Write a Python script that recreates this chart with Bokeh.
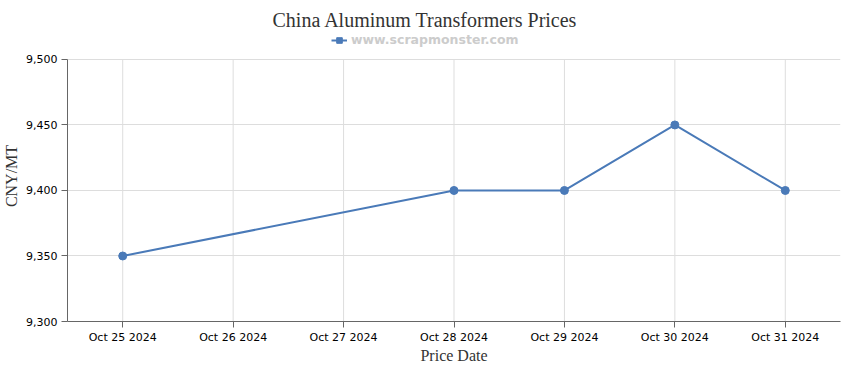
from datetime import datetime, timedelta
from bokeh.plotting import figure
from bokeh.models import (DatetimeTickFormatter, NumeralTickFormatter, FixedTicker, Range1d,
                          Title, Legend, LegendItem, ColumnDataSource)
from bokeh.embed import file_html
from bokeh.resources import INLINE

dates = ["2024-10-25", "2024-10-28", "2024-10-29", "2024-10-30", "2024-10-31"]
prices = [9350, 9400, 9400, 9450, 9400]
tick_dates = ["2024-10-25", "2024-10-26", "2024-10-27", "2024-10-28", "2024-10-29", "2024-10-30", "2024-10-31"]
y_ticks = [9300, 9350, 9400, 9450, 9500]

xs = [datetime.strptime(d, "%Y-%m-%d") for d in dates]
txs = [datetime.strptime(d, "%Y-%m-%d") for d in tick_dates]
half = timedelta(hours=12)

COLOR = "#4a7ab8"
Y_TOP = 9522.1  # headroom so the legend can sit inside the frame above 9,500

p = figure(width=850, height=370, output_backend="svg", toolbar_location=None,
           x_axis_type="datetime",
           x_range=Range1d(txs[0] - half, txs[-1] + half),
           y_range=Range1d(y_ticks[0], Y_TOP),
           min_border_left=10, min_border_right=10, min_border_top=30, min_border_bottom=49)
p.outline_line_color = None
p.background_fill_color = "white"
p.border_fill_color = "white"

# vertical grid lines restricted to the value range
p.segment(x0=txs, x1=txs, y0=[y_ticks[0]] * len(txs), y1=[y_ticks[-1]] * len(txs),
          line_color="#dddddd", line_width=1)

src = ColumnDataSource(dict(x=xs, y=prices))
ln = p.line("x", "y", source=src, line_color=COLOR, line_width=2)
sc = p.scatter("x", "y", source=src, size=8, fill_color=COLOR, line_color=COLOR)
sq = p.scatter("x", "y", source=src, marker="square", size=0, fill_color=COLOR, line_color=COLOR)

p.xaxis.ticker = FixedTicker(ticks=[t.timestamp() * 1000 for t in txs])
p.xaxis.formatter = DatetimeTickFormatter(days="%b %d %Y", months="%b %d %Y", hours="%b %d %Y")
p.yaxis.ticker = FixedTicker(ticks=y_ticks)
p.yaxis.formatter = NumeralTickFormatter(format="0,0")
p.yaxis.bounds = (y_ticks[0], y_ticks[-1])

for ax in (p.xaxis[0], p.yaxis[0]):
    ax.axis_line_color = "#666666"
    ax.major_tick_line_color = "#666666"
    ax.major_tick_out = 6
    ax.major_tick_in = 0
    ax.minor_tick_line_color = None
    ax.major_label_text_font = "DejaVu Sans"
    ax.major_label_text_font_size = "11px"
    ax.major_label_text_color = "#000000"
    ax.axis_label_text_font = "Liberation Serif"
    ax.axis_label_text_font_style = "normal"
    ax.axis_label_text_font_size = "16px"
    ax.axis_label_text_color = "#333333"

p.xaxis.axis_label = "Price Date"
p.yaxis.axis_label = "CNY/MT"
p.xaxis.axis_label_standoff = 0
p.yaxis.axis_label_standoff = 3
p.xaxis.major_label_standoff = 3
p.yaxis.major_label_standoff = 4

p.xgrid.grid_line_color = None
p.ygrid.grid_line_color = "#dddddd"
p.ygrid.ticker = p.yaxis.ticker

legend = Legend(items=[LegendItem(label="www.scrapmonster.com", renderers=[ln, sq])],
                orientation="horizontal", location=(264, 274),
                label_text_font="DejaVu Sans", label_text_font_size="12.5px",
                label_text_font_style="bold", label_text_color="#cccccc",
                border_line_color=None, background_fill_alpha=0,
                glyph_width=16, glyph_height=14, padding=0, margin=0, label_standoff=4,
                label_height=14)
p.add_layout(legend, "center")

p.title = Title(text="China Aluminum Transformers Prices", align="left",
                text_font="Liberation Serif", text_font_size="20px",
                text_font_style="normal", text_color="#333333", offset=205, standoff=0)

open("out.html", "w").write(file_html(p, INLINE))
